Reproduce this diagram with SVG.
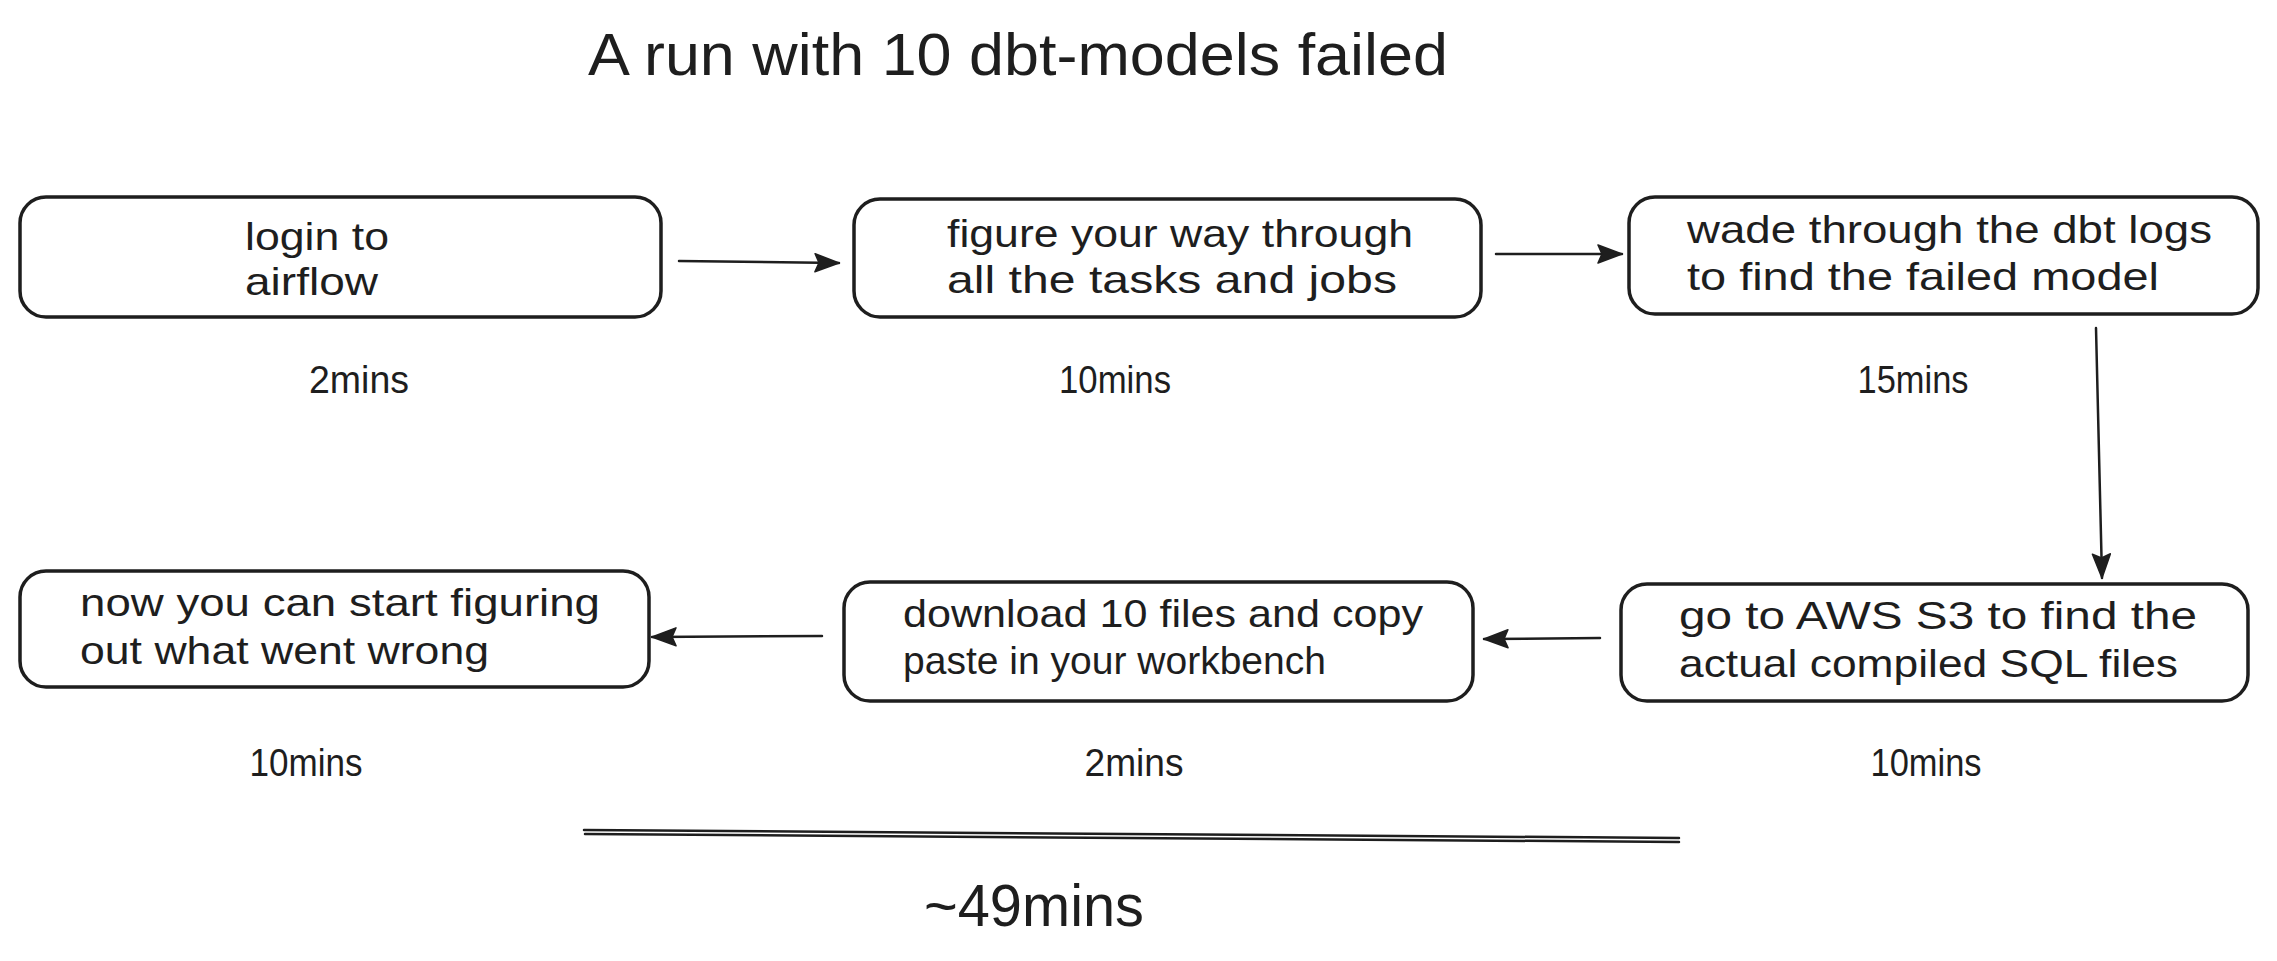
<svg xmlns="http://www.w3.org/2000/svg" width="2277" height="961" viewBox="0 0 2277 961">
<style>
.box{fill:#fff;stroke:#1e1e1e;stroke-width:3.5;}
.t{font-family:"Liberation Sans",Arial,sans-serif;font-size:39px;fill:#1e1e1e;}
.tm{font-family:"Liberation Sans",Arial,sans-serif;font-size:38px;fill:#1e1e1e;text-anchor:middle;}
.title{font-family:"Liberation Sans",Arial,sans-serif;font-size:60px;fill:#1e1e1e;}
.conn{fill:none;stroke:#1e1e1e;stroke-width:2.5;stroke-linecap:round;}
</style>
<defs>
<marker id="ah" viewBox="0 0 26 20" refX="25" refY="10" markerWidth="26" markerHeight="20" markerUnits="userSpaceOnUse" orient="auto">
<path d="M1,1 L25,10 L1,19 L5,10 Z" fill="#1e1e1e" stroke="#1e1e1e" stroke-width="1.5" stroke-linejoin="round"/>
</marker>
</defs>
<rect width="2277" height="961" fill="#fff"/>
<text id="title" class="title" x="588" y="75" textLength="860" lengthAdjust="spacingAndGlyphs">A run with 10 dbt-models failed</text>

<g id="n1">
<rect class="box" x="20" y="197" width="641" height="120" rx="26"/>
<text class="t" x="245" y="250" textLength="144" lengthAdjust="spacingAndGlyphs">login to</text>
<text class="t" x="245" y="295" textLength="133" lengthAdjust="spacingAndGlyphs">airflow</text>
</g>
<g id="n2">
<rect class="box" x="854" y="199" width="627" height="118" rx="26"/>
<text class="t" x="947" y="247" textLength="466" lengthAdjust="spacingAndGlyphs">figure your way through</text>
<text class="t" x="947" y="293" textLength="450" lengthAdjust="spacingAndGlyphs">all the tasks and jobs</text>
</g>
<g id="n3">
<rect class="box" x="1629" y="197" width="629" height="117" rx="26"/>
<text class="t" x="1687" y="243" textLength="525" lengthAdjust="spacingAndGlyphs">wade through the dbt logs</text>
<text class="t" x="1687" y="290" textLength="472" lengthAdjust="spacingAndGlyphs">to find the failed model</text>
</g>
<g id="n4">
<rect class="box" x="1621" y="584" width="627" height="117" rx="26"/>
<text class="t" x="1679" y="629" textLength="518" lengthAdjust="spacingAndGlyphs">go to AWS S3 to find the</text>
<text class="t" x="1679" y="677" textLength="499" lengthAdjust="spacingAndGlyphs">actual compiled SQL files</text>
</g>
<g id="n5">
<rect class="box" x="844" y="582" width="629" height="119" rx="26"/>
<text class="t" x="903" y="627" textLength="520" lengthAdjust="spacingAndGlyphs">download 10 files and copy</text>
<text class="t" x="903" y="674" textLength="423" lengthAdjust="spacingAndGlyphs">paste in your workbench</text>
</g>
<g id="n6">
<rect class="box" x="20" y="571" width="629" height="116" rx="26"/>
<text class="t" x="80" y="616" textLength="520" lengthAdjust="spacingAndGlyphs">now you can start figuring</text>
<text class="t" x="80" y="664" textLength="409" lengthAdjust="spacingAndGlyphs">out what went wrong</text>
</g>

<g id="labels">
<text class="tm" x="359" y="393" textLength="100" lengthAdjust="spacingAndGlyphs">2mins</text>
<text class="tm" x="1115" y="393" textLength="112" lengthAdjust="spacingAndGlyphs">10mins</text>
<text class="tm" x="1913" y="393" textLength="111" lengthAdjust="spacingAndGlyphs">15mins</text>
<text class="tm" x="306" y="776" textLength="113" lengthAdjust="spacingAndGlyphs">10mins</text>
<text class="tm" x="1134" y="776" textLength="99" lengthAdjust="spacingAndGlyphs">2mins</text>
<text class="tm" x="1926" y="776" textLength="111" lengthAdjust="spacingAndGlyphs">10mins</text>
<text id="total" class="title" x="924" y="926" font-size="56" textLength="220" lengthAdjust="spacingAndGlyphs">~49mins</text>
</g>

<g id="connectors">
<path class="conn" d="M679,261 L839,263" marker-end="url(#ah)"/>
<path class="conn" d="M1496,254 L1622,254" marker-end="url(#ah)"/>
<path class="conn" d="M2096,328 L2102,578" marker-end="url(#ah)"/>
<path class="conn" d="M1600,638 L1484,639" marker-end="url(#ah)"/>
<path class="conn" d="M822,636 L652,637" marker-end="url(#ah)"/>
</g>
<g id="separator">
<path class="conn" d="M584,830 L1679,838"/>
<path class="conn" d="M585,834 L1679,842" stroke-width="2"/>
</g>
</svg>
